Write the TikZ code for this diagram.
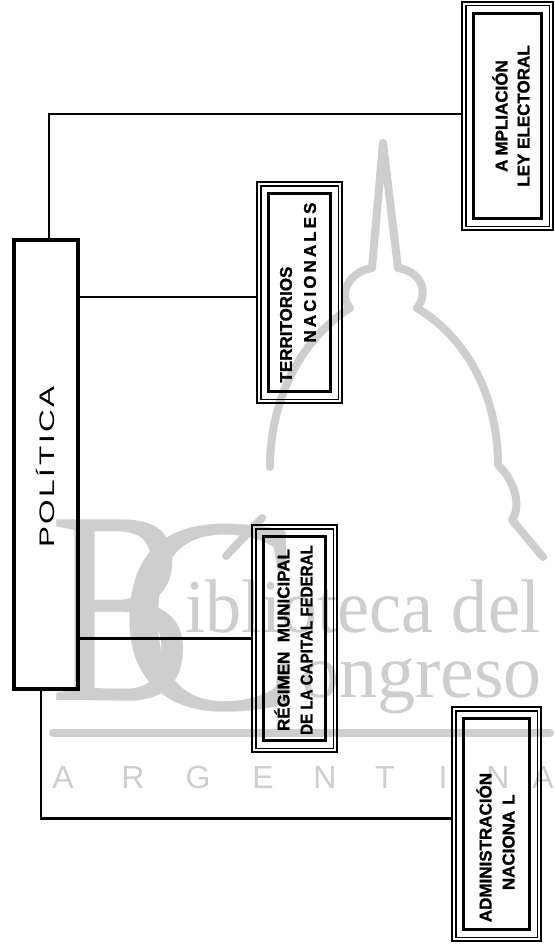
\documentclass[tikz,border=0pt]{standalone}
\usepackage{fontspec}
\setmainfont{Liberation Sans}
\newfontfamily\wmserif{Liberation Serif}
\newfontfamily\lblfont{Liberation Sans}[BoldFeatures={FakeBold=1.3}]
\definecolor{wmgray}{RGB}{206,206,206}
\begin{document}
\begin{tikzpicture}[x=1pt,y=-1pt,
  framebox/.style={draw, line width=1.1pt, inner sep=0pt},
  lbl/.style={font=\lblfont\bfseries\fontsize{17}{#1}\selectfont, rotate=90, inner sep=0pt},
  lbl/.default=23,
  wire/.style={line width=2.8pt},
  wmtext/.style={text=wmgray, inner sep=0pt},
  wmline/.style={draw=wmgray, line width=8pt, line cap=round, line join=round}]
\useasboundingbox (0,0) rectangle (554,944);
% ---------------- watermark ----------------
\node[wmtext, font=\wmserif\fontsize{276}{276}\selectfont, xscale=0.78, anchor=base west] (wmB) at (50,700) {B};
\node[wmtext, font=\wmserif\fontsize{280}{280}\selectfont, anchor=base west] (wmC) at (118,709) {C};
\node[wmtext, font=\wmserif\fontsize{76}{76}\selectfont, xscale=0.95, anchor=base west] (wmib) at (185,632) {iblioteca del};
\node[wmtext, font=\wmserif\fontsize{76}{76}\selectfont, anchor=base west] (wmon) at (301,697) {ongreso};
\draw[wmline] (53,733) -- (550,733);
\foreach \l/\x [count=\i] in {A/63,R/133,G/198,E/263,N/325,T/385,I/443,N/498,A/543}
  \node[wmtext, font=\fontsize{32}{32}\selectfont, anchor=base] (wmA\i) at (\x,788) {\l};
\draw[wmline] (350,308) .. controls (338,295) and (348,272) .. (372,268) -- (383,143) -- (398,268)
  .. controls (424,272) and (428,295) .. (417,308);
\draw[wmline] (350,308) .. controls (300,340) and (270,400) .. (270,467);
\draw[wmline] (417,308) .. controls (470,340) and (498,400) .. (498,465)
  .. controls (514,480) and (522,505) .. (512,520) -- (543,557);
\draw[wmline] (262,518) -- (226,556);
% ---------------- main box ----------------
\node[draw, line width=3.5pt, minimum width=64pt, minimum height=449pt, inner sep=0pt] (poli) at (46,464.5) {};
\node[font=\fontsize{21}{21}\selectfont\addfontfeature{LetterSpace=8}, rotate=90, inner sep=0pt] (polit) at (45,467) {\scalebox{1.5}[1]{POLÍTICA}};
% ---------------- branch boxes ----------------
\node[framebox, minimum width=91pt, minimum height=228pt] (ampl) at (507.5,116) {};
\node[framebox, minimum width=85pt, minimum height=221pt] (terr) at (299.5,292.5) {};
\node[framebox, minimum width=85pt, minimum height=227pt] (regi) at (294.5,638.5) {};
\node[framebox, minimum width=89pt, minimum height=234pt] (admi) at (496.5,824) {};
\foreach \n in {ampl,terr,regi,admi}{
  \draw[line width=1.1pt] ([shift={(4.5,4.5)}]\n.north west) rectangle ([shift={(-4.5,-4.5)}]\n.south east);
  \draw[line width=2.8pt] ([shift={(12,12)}]\n.north west) rectangle ([shift={(-12,-12)}]\n.south east);
}
\node[lbl=22, align=center] (amplt) at (511,116) {A\kern4pt MPLIACIÓN\\LEY ELECTORAL};
\node[lbl=24, align=left] (terrt) at (298,292.5) {TERRITORIOS\\\hspace*{40pt}{\addfontfeature{LetterSpace=18}NACIONALES}};
\node[lbl=23, align=center] (regit) at (293.5,640) {RÉGIMEN\ \ MUNICIPAL\\\scalebox{0.89}[1]{DE LA CAPITAL FEDERAL}};
\node[lbl=23, align=left] (admit) at (495.5,847.5) {ADMINISTRACIÓN\\\hspace*{32pt}NACIONA\kern6pt L};
% ---------------- connectors ----------------
\coordinate (tw) at ([yshift=-4.5pt]terr.west);
\coordinate (aw) at ([yshift=5.5pt]admi.west);
\draw[wire] ([xshift=3pt]poli.north) |- ([yshift=2pt]ampl.west);
\draw[wire] (poli.east |- tw) -- (tw);
\draw[wire] (poli.east |- regi.west) -- (regi.west);
\draw[wire] ([xshift=-5pt]poli.south) |- (aw);
\end{tikzpicture}
\end{document}
